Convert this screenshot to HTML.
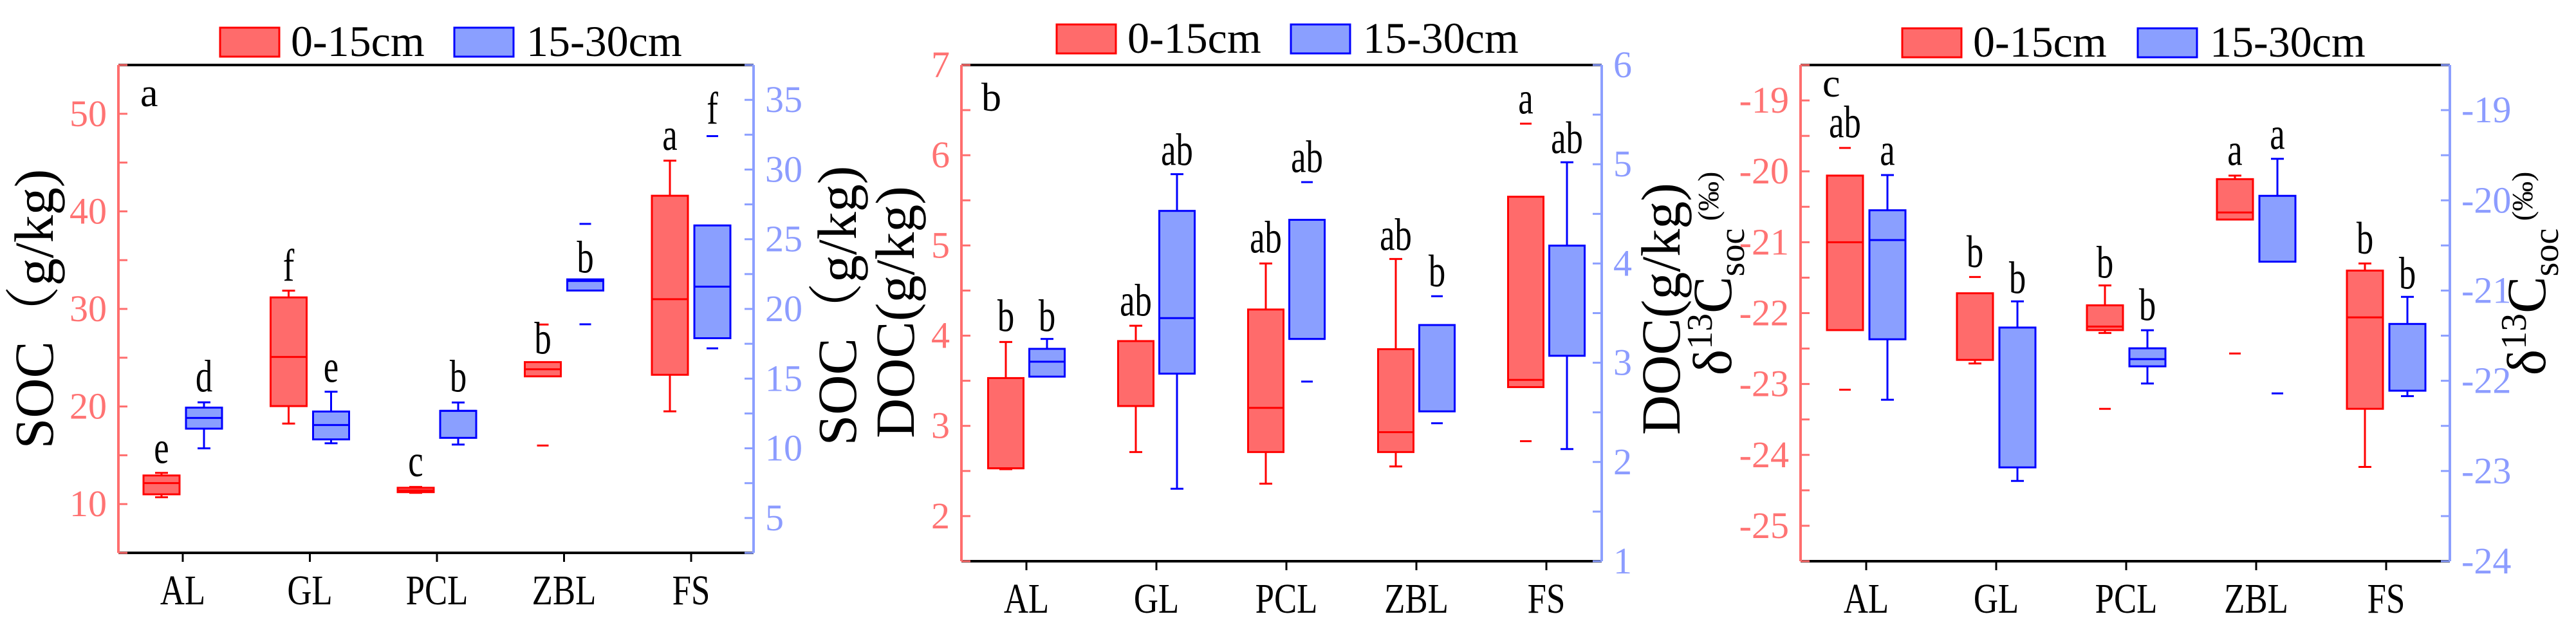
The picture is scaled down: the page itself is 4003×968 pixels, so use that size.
<!DOCTYPE html>
<html><head><meta charset="utf-8"><style>
html,body{margin:0;padding:0;background:#fff;}
svg{display:block;font-family:"Liberation Serif","Noto Serif CJK SC",serif;}
</style></head><body>
<svg id="chart" width="4003" height="968" viewBox="0 0 4003 968" xmlns="http://www.w3.org/2000/svg"></svg>
<script>
// ---- data ----
const categories = ["AL","GL","PCL","ZBL","FS"];
// box stats per category: [low whisker, q1, median, q3, high whisker]
const socTop = [[10.7,11.0,12.15,12.93,13.2],[18.25,20.04,25.08,31.18,31.87],[11.15,11.22,11.4,11.67,11.75],[23.09,23.09,23.82,24.55,24.55],[19.5,23.25,31.0,41.6,45.2]];
const socTopOut = [[],[],[],[16.0,28.4],[]];
const socTopLetters = ["e","f","c","b","a"];
const socTopLetterAt = [14.2,32.9,12.85,25.4,46.3];
const socSub = [[10.0,11.41,12.18,12.92,13.3],[10.36,10.64,11.67,12.64,14.06],[10.27,10.75,12.69,12.69,13.29],[21.32,21.32,22.0,22.12,22.12],[17.9,17.9,21.6,25.99,25.99]];
const socSubOut = [[],[],[],[18.9,26.1],[32.4,17.17]];
const socSubLetters = ["d","e","b","b","f"];
const socSubLetterAt = [14.06,14.77,14.06,22.6,33.3];

const docTop = [[2.52,2.53,2.53,3.53,3.93],[2.71,3.22,null,3.94,4.11],[2.36,2.71,3.2,4.29,4.8],[2.55,2.71,2.93,3.85,4.85],[3.43,3.43,3.51,5.54,5.54]];
const docTopOut = [[],[],[],[],[6.35,2.83]];
const docTopLetters = ["b","ab","ab","ab","a"];
const docTopLetterAt = [4.05,4.22,4.92,4.95,6.46];
const docSub = [[2.86,2.86,3.01,3.14,3.24],[1.73,2.89,3.45,4.53,4.9],[3.24,3.24,3.24,4.44,4.44],[2.51,2.51,null,3.38,3.38],[2.13,3.07,null,4.18,5.02]];
const docSubOut = [[],[],[4.82,2.81],[3.67,2.39],[]];
const docSubLetters = ["b","ab","ab","b","ab"];
const docSubLetterAt = [3.32,4.99,4.92,3.77,5.11];

const d13Top = [[-22.24,-22.24,-21.0,-20.06,-20.06],[-22.71,-22.66,null,-21.72,-21.72],[-22.28,-22.24,-22.19,-21.89,-21.61],[-20.68,-20.68,-20.58,-20.11,-20.06],[-24.17,-23.35,-22.06,-21.4,-21.3]];
const d13TopOut = [[-19.67,-23.08],[-21.49],[-23.35],[-22.57],[]];
const d13TopLetters = ["ab","b","b","a","b"];
const d13TopLetterAt = [-19.52,-21.35,-21.5,-19.91,-21.16];
const d13Sub = [[-22.21,-21.54,-20.44,-20.11,-19.72],[-23.11,-22.96,null,-21.41,-21.12],[-22.03,-21.84,-21.76,-21.64,-21.44],[-20.68,-20.68,null,-19.95,-19.54],[-22.17,-22.11,null,-21.37,-21.07]];
const d13SubOut = [[],[],[],[-22.14],[]];
const d13SubLetters = ["a","b","b","a","b"];
const d13SubLetterAt = [-19.61,-21.03,-21.33,-19.43,-20.98];

const socLeftTicks = [10,20,30,40,50];
const socRightTicks = [5,10,15,20,25,30,35];
const docLeftTicks = [2,3,4,5,6,7];
const docRightTicks = [1,2,3,4,5,6];
const d13LeftTicks = [-25,-24,-23,-22,-21,-20,-19];
const d13RightTicks = [-24,-23,-22,-21,-20,-19];

// ---- rendering ----
const NS="http://www.w3.org/2000/svg";
const svg=document.getElementById('chart');
const RED_F="#ff6b6b",RED_S="#ff0000",BLUE_F="#8a9fff",BLUE_S="#0000ff",AX_R="#ff6e6e",AX_B="#8c9fff",TXT_R="#ff7373",TXT_B="#8c9cff";
function el(tag,attrs,parent){const e=document.createElementNS(NS,tag);for(const k in attrs)e.setAttribute(k,attrs[k]);(parent||svg).appendChild(e);return e;}
function txt(s,attrs,parent){const e=el('text',attrs,parent);e.textContent=s;return e;}

function panel(cfg){
  const g=el('g',{});
  
  
  const yL=v=>cfg.B-(v-cfg.l0)/(cfg.l1-cfg.l0)*(cfg.B-cfg.T);
  const yR=v=>cfg.B-(v-cfg.r0)/(cfg.r1-cfg.r0)*(cfg.B-cfg.T);
  const xC=i=>cfg.x0+i*cfg.dx;
  // axes
  const top=el('line',{x1:cfg.L,y1:cfg.T,x2:cfg.R,y2:cfg.T,stroke:'#000','stroke-width':4},g);
  
  const bot=el('line',{x1:cfg.L,y1:cfg.B,x2:cfg.R,y2:cfg.B,stroke:'#000','stroke-width':4},g);
  
  const la=el('line',{x1:cfg.L,y1:cfg.T,x2:cfg.L,y2:cfg.B,stroke:AX_R,'stroke-width':4},g);
  
  const ra=el('line',{x1:cfg.R,y1:cfg.T,x2:cfg.R,y2:cfg.B,stroke:AX_B,'stroke-width':4},g);
  
  // left ticks (major + minor)
  const lt=cfg.leftTicks, step=lt[1]-lt[0];
  for(let v=lt[0]-step/2; v<=cfg.l1+1e-9; v+=step/2){
    if(v<cfg.l0-1e-9) continue;
    el('line',{x1:cfg.L,y1:yL(v),x2:cfg.L+14,y2:yL(v),stroke:AX_R,'stroke-width':3},g);
  }
  lt.forEach(v=>{const t=txt(String(v),{x:cfg.L-18,y:yL(v)+19,'text-anchor':'end','font-size':58,fill:TXT_R},g);
    });
  const rt=cfg.rightTicks, rstep=rt[1]-rt[0];
  for(let v=rt[0]-rstep/2; v<=cfg.r1+1e-9; v+=rstep/2){
    if(v<cfg.r0-1e-9) continue;
    el('line',{x1:cfg.R-14,y1:yR(v),x2:cfg.R,y2:yR(v),stroke:AX_B,'stroke-width':3},g);
  }
  rt.forEach(v=>{const t=txt(String(v),{x:cfg.R+18,y:yR(v)+19,'text-anchor':'start','font-size':58,fill:TXT_B},g);
    });
  // x ticks and labels
  categories.forEach((c,i)=>{
    el('line',{x1:xC(i),y1:cfg.B,x2:xC(i),y2:cfg.B+14,stroke:'#000','stroke-width':3},g);
    const t=txt(c,{'text-anchor':'middle','font-size':66,fill:'#000',transform:`translate(${xC(i)},${cfg.B+80}) scale(0.8,1)`},g);
    
  });
  // boxes
  function boxes(stats,outs,letters,letterAt,ys,dxo,fill,stroke,nm){
    stats.forEach((s,i)=>{
      const cx=xC(i)+dxo, w=cfg.bw;
      const bg=el('g',{},g);
      
      
      if(s[4]>s[3]) el('line',{x1:cx,y1:ys(s[3]),x2:cx,y2:ys(s[4]),stroke:stroke,'stroke-width':3},bg);
      if(s[0]<s[1]) el('line',{x1:cx,y1:ys(s[1]),x2:cx,y2:ys(s[0]),stroke:stroke,'stroke-width':3},bg);
      if(s[4]>s[3]) el('line',{x1:cx-10,y1:ys(s[4]),x2:cx+10,y2:ys(s[4]),stroke:stroke,'stroke-width':3},bg);
      if(s[0]<s[1]) el('line',{x1:cx-10,y1:ys(s[0]),x2:cx+10,y2:ys(s[0]),stroke:stroke,'stroke-width':3},bg);
      el('rect',{x:cx-w/2,y:ys(s[3]),width:w,height:Math.max(2,ys(s[1])-ys(s[3])),fill:fill,stroke:stroke,'stroke-width':3},bg);
      if(s[2]!==null) el('line',{x1:cx-w/2,y1:ys(s[2]),x2:cx+w/2,y2:ys(s[2]),stroke:stroke,'stroke-width':3},bg);
      outs[i].forEach(o=>el('line',{x1:cx-9,y1:ys(o),x2:cx+9,y2:ys(o),stroke:stroke,'stroke-width':3},bg));
      const t=txt(letters[i],{'text-anchor':'middle','font-size':62,fill:'#000',transform:`translate(${cx},${ys(letterAt[i])}) scale(0.85,1.15)`},bg);
      
    });
  }
  boxes(cfg.top,cfg.topOut,cfg.topL,cfg.topLA,yL,-cfg.off,RED_F,RED_S,'topsoil');
  boxes(cfg.sub,cfg.subOut,cfg.subL,cfg.subLA,yR,cfg.off,BLUE_F,BLUE_S,'subsoil');
  // panel letter
  const pl=txt(cfg.letter,{x:cfg.pl[0],y:cfg.pl[1],'font-size':62,fill:'#000'},g);
  
  // legend
  const lg=el('g',{},g);
  
  el('rect',{x:cfg.leg[0],y:cfg.leg[1],width:92,height:45,fill:RED_F,stroke:RED_S,'stroke-width':3},lg);
  txt('0-15cm',{x:cfg.leg[0]+110,y:cfg.leg[1]+44,'font-size':68,fill:'#000'},lg);
  el('rect',{x:cfg.leg[2],y:cfg.leg[1],width:92,height:45,fill:BLUE_F,stroke:BLUE_S,'stroke-width':3},lg);
  txt('15-30cm',{x:cfg.leg[2]+112,y:cfg.leg[1]+44,'font-size':68,fill:'#000'},lg);
}

panel({name:'panel-soc',L:184,R:1171,T:101,B:859,l0:5,l1:55,r0:2.5,r1:37.5,x0:284,dx:197.5,off:33,bw:56,
  leftTicks:socLeftTicks,rightTicks:socRightTicks,top:socTop,topOut:socTopOut,topL:socTopLetters,topLA:socTopLetterAt,
  sub:socSub,subOut:socSubOut,subL:socSubLetters,subLA:socSubLetterAt,letter:'a',pl:[218,165],leg:[342,43,706]});
panel({name:'panel-doc',L:1494,R:2489,T:101,B:872,l0:1.5,l1:7,r0:1,r1:6,x0:1595,dx:202,off:32,bw:55,
  leftTicks:docLeftTicks,rightTicks:docRightTicks,top:docTop,topOut:docTopOut,topL:docTopLetters,topLA:docTopLetterAt,
  sub:docSub,subOut:docSubOut,subL:docSubLetters,subLA:docSubLetterAt,letter:'b',pl:[1525,172],leg:[1642,38,2006]});
panel({name:'panel-d13c',L:2798,R:3807,T:101,B:872,l0:-25.5,l1:-18.5,r0:-24,r1:-18.5,x0:2900,dx:202,off:33,bw:56,
  leftTicks:d13LeftTicks,rightTicks:d13RightTicks,top:d13Top,topOut:d13TopOut,topL:d13TopLetters,topLA:d13TopLetterAt,
  sub:d13Sub,subOut:d13SubOut,subL:d13SubLetters,subLA:d13SubLetterAt,letter:'c',pl:[2832,150],leg:[2956,44,3322]});

// axis titles
function vtitle(x,y,html,name){
  const t=el('text',{transform:`translate(${x},${y}) rotate(-90)`,'text-anchor':'middle','font-size':86,fill:'#000'});
  t.innerHTML=html;
  
  
}
vtitle(82,480,'SOC（g/kg)','soc-left-axis-title');
vtitle(1330,475,'SOC（g/kg)','soc-right-axis-title');
vtitle(1420,485,'DOC(g/kg)','doc-left-axis-title');
vtitle(2610,480,'DOC(g/kg)','doc-right-axis-title');
const d13html='δ<tspan font-size="56" dy="-30">13</tspan><tspan dy="30">C</tspan><tspan font-size="56" dy="20">soc</tspan><tspan font-size="46" dy="-40"> (‰)</tspan>';
vtitle(2690,425,d13html,'d13c-left-axis-title');
vtitle(3955,425,d13html,'d13c-right-axis-title');
</script>
</body></html>
